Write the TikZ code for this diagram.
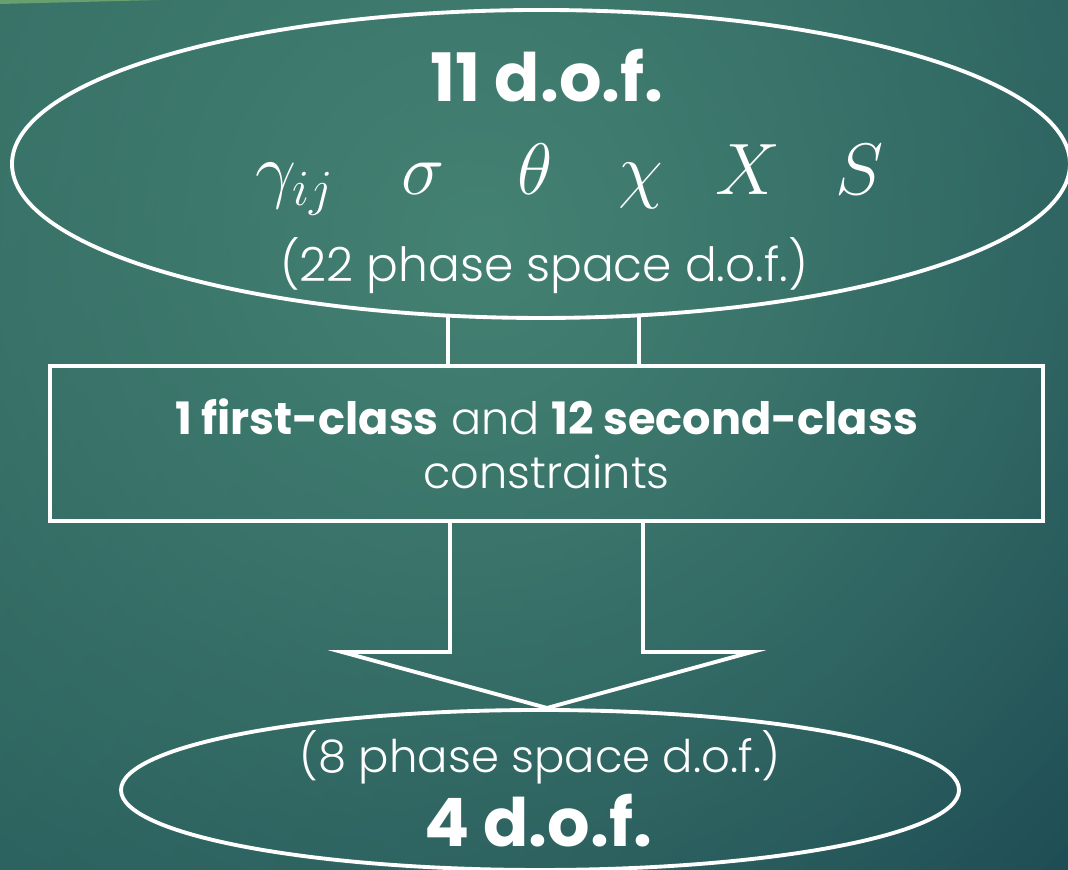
\documentclass[tikz,border=0pt]{standalone}
\usepackage{fontspec}
\setmainfont{Poppins}
\newfontfamily\thinfont{Poppins Light}
\usetikzlibrary{positioning,calc,shapes.geometric,fadings,shadings}
\definecolor{bgglow}{RGB}{68,130,115}
\definecolor{bgul}{RGB}{48,102,95}
\definecolor{bgur}{RGB}{34,84,88}
\definecolor{bgll}{RGB}{38,90,90}
\definecolor{bglr}{RGB}{25,68,80}
\definecolor{leaf}{RGB}{104,160,112}
\tikzfading[name=glowfade, inner color=transparent!0, outer color=transparent!100]
\newcommand{\boldpart}[1]{{\rmfamily\bfseries #1}}
\tikzset{
  wline/.style={white, line width=1.1pt},
  dofell/.style={ellipse, draw=white, line width=1.1pt, inner sep=0pt, outer sep=0pt},
  bigtxt/.style={text=white, font=\fontsize{19}{22}\selectfont\bfseries, inner sep=0pt},
  thintxt/.style={text=white, font=\fontsize{13.4}{16}\selectfont\thinfont, inner sep=0pt},
  vartxt/.style={text=white, font=\fontsize{21.5}{24}\selectfont, inner sep=0pt},
  constrbox/.style={draw=white, line width=1.1pt, outer sep=0pt, align=center,
    text=white, font=\fontsize{12.7}{15.4}\selectfont\thinfont},
}

\begin{document}
\begin{tikzpicture}[x=1cm,y=1cm]
\useasboundingbox (0,0) rectangle (10.68,8.70);
\begin{scope}
  \clip (0,0) rectangle (10.68,8.70);
  \shade[upper left=bgul, upper right=bgur, lower left=bgll, lower right=bglr]
    (0,0) rectangle (10.68,8.70);
  \fill[bgglow, path fading=glowfade] (4.8,6.3) circle (10);
  \fill[leaf] (0,8.70) -- (1.6,8.70) -- (0,8.66) -- cycle;
\end{scope}
% before the constraints
\node[dofell, minimum width=10.58cm, minimum height=3.08cm] (before) at (5.41,7.06) {};
\node[bigtxt, anchor=base] (dof11) at (5.47,7.68) {11 d.o.f.};
\foreach \sym/\xx [count=\k] in {{\gamma_{ij}}/2.95, \sigma/4.23, \theta/5.35, \chi/6.41, X/7.48, S/8.60}
  \node[vartxt, anchor=base] (var\k) at (\xx,6.75) {$\sym$};
\node[thintxt, anchor=base] (ps22) at (5.44,5.88) {(22 phase space d.o.f.)};
% constraints
\node[constrbox, minimum width=9.93cm, minimum height=1.55cm] (constr) at (5.465,4.265)
  {\boldpart{1 first-class} and \boldpart{12 second-class}\\constraints};
\coordinate (stemL) at (4.48,5.545);
\coordinate (stemR) at (6.39,5.545);
\draw[wline] (stemL) -- (stemL |- constr.north);
\draw[wline] (stemR) -- (stemR |- constr.north);
% after the constraints
\node[dofell, minimum width=8.38cm, minimum height=1.60cm] (after) at (5.40,0.80) {};
\node[thintxt, font=\fontsize{12.8}{15}\selectfont\thinfont, anchor=base] (ps8) at (5.40,0.97) {(8 phase space d.o.f.)};
\node[bigtxt, anchor=base] (dof4) at (5.38,0.23) {4 d.o.f.};
\coordinate (tip) at ($(after.north)+(0.07,0.02)$);
\draw[wline, line join=miter] ($(constr.south)+(-0.965,0)$) |- (3.42,2.18) -- (tip)
  -- (7.52,2.18) -| ($(constr.south)+(0.965,0)$);
\end{tikzpicture}
\end{document}
